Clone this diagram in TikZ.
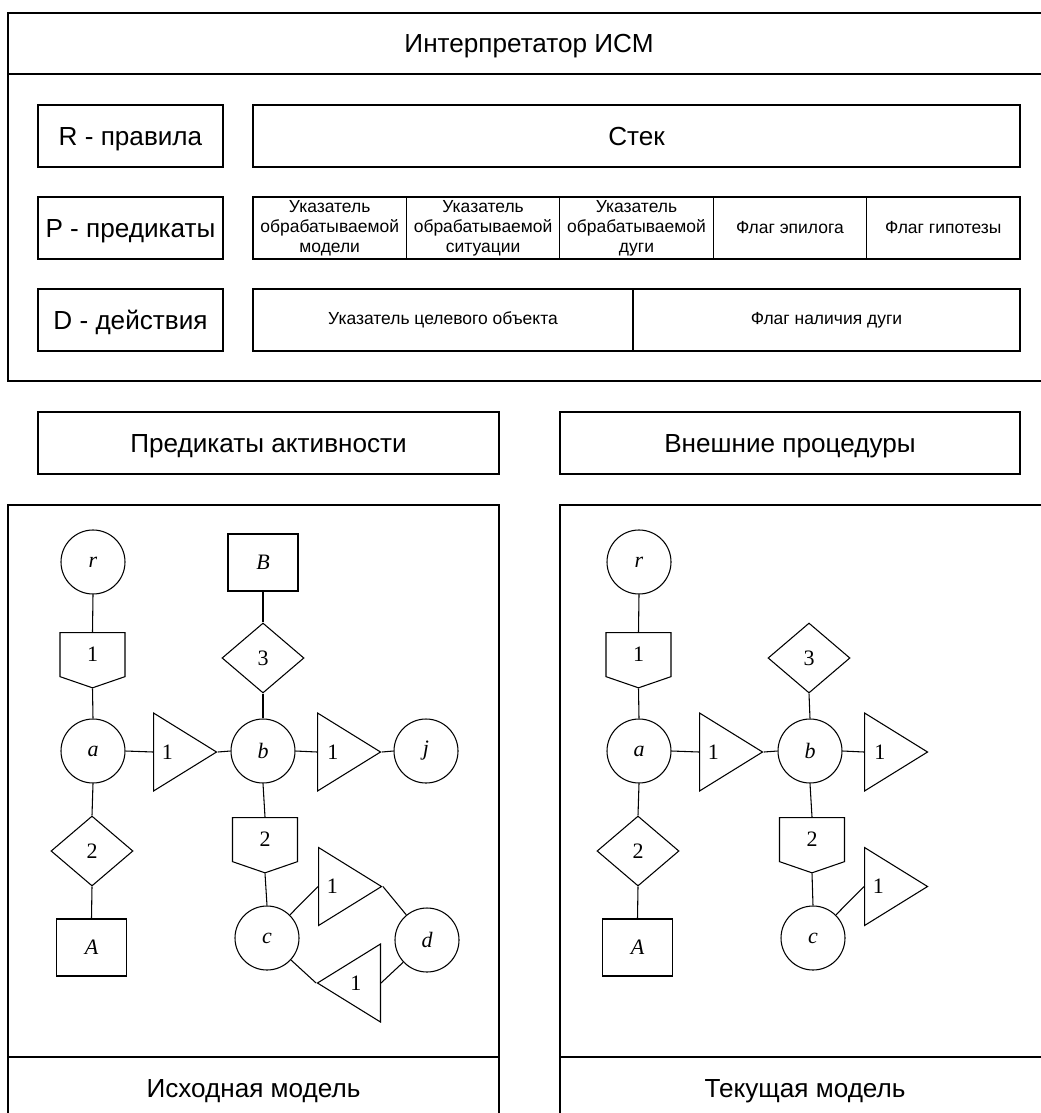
\documentclass[tikz,border=0pt]{standalone}
\usepackage{fontspec}
\setmainfont{Liberation Sans}
\newfontfamily\tms{Liberation Serif}
\usetikzlibrary{positioning}
\usetikzlibrary{shapes.geometric, shapes.symbols}

\tikzset{
  big/.style={font=\fontsize{19.6}{23}\selectfont, text height=14.1pt, text depth=0pt},
  box/.style={draw, line width=0.9pt, minimum height=46.5pt, inner sep=0pt, outer sep=0pt, big},
  cell/.style={draw, line width=0.9pt, minimum height=46.5pt, minimum width=#1, inner sep=0pt, outer sep=0pt, align=center, font=\fontsize{13.1}{15}\selectfont},
  cell/.default=115.05pt,
  gr/.style={draw, line width=0.8pt, inner sep=0pt, font=\tms\fontsize{16.5}{18}\selectfont},
  vert/.style={gr, circle, minimum size=48pt, font=\tms\fontsize{16.5}{18}\selectfont\itshape},
  obj/.style={gr, rectangle, minimum width=52.5pt, minimum height=42.75pt, font=\tms\fontsize{16.5}{18}\selectfont\itshape},
  cond/.style={gr, diamond, minimum width=61.5pt, minimum height=52.5pt},
  flag/.style={gr, signal, signal to=south, signal pointer angle=142, minimum width=48.75pt, minimum height=34.5pt, anchor=north},
  trig/.style={gr, isosceles triangle, isosceles triangle stretches, minimum width=58.5pt, minimum height=47.25pt, anchor=lower side},
  num/.style={inner sep=0pt, font=\tms\fontsize{16.5}{18}\selectfont},
  link/.style={line width=0.8pt}
}

\begin{document}
\begin{tikzpicture}[x=0.75pt, y=-0.75pt]
  \useasboundingbox (0,0) rectangle (1040,1113);
  %interpreter
  \draw[line width=1.2pt] (8,13) rectangle (1050,381);
  \draw[line width=1.2pt] (8,74) -- (1050,74);
  \node[big] (ism) at (529,43.5) {Интерпретатор ИСМ};
  \node[box, minimum width=138.75pt] (rules) at (130.5,136) {R - правила};
  \node[box, minimum width=575.25pt] (stack) at (636.5,136) {Стек};
  \node[box, minimum width=138.75pt] (preds) at (130.5,228) {P - предикаты};
  \node[cell, anchor=west] (p1) at (253,228) {Указатель\\обрабатываемой\\модели};
  \node[cell, right=0pt of p1] (p2) {Указатель\\обрабатываемой\\ситуации};
  \node[cell, right=0pt of p2] (p3) {Указатель\\обрабатываемой\\дуги};
  \node[cell, right=0pt of p3] (p4) {Флаг эпилога};
  \node[cell, right=0pt of p4] (p5) {Флаг гипотезы};
  \node[box, minimum width=138.75pt] (acts) at (130.5,320) {D - действия};
  \node[cell=285pt, anchor=west] (d1) at (253,320) {Указатель целевого объекта};
  \node[cell=290.25pt, right=0pt of d1] (d2) {Флаг наличия дуги};
  %middle
  \node[box, minimum width=345.75pt] (act) at (268.5,443) {Предикаты активности};
  \node[box, minimum width=345pt] (ext) at (790,443) {Внешние процедуры};
  %panels
  \draw[line width=0.9pt] (8,505) rectangle (499,1125);
  \draw[line width=0.9pt] (8,1057) -- (499,1057);
  \node[big] (src) at (253.5,1088) {Исходная модель};
  \draw[line width=0.9pt] (560,505) rectangle (1050,1125);
  \draw[line width=0.9pt] (560,1057) -- (1050,1057);
  \node[big] (cur) at (805,1088) {Текущая модель};

  % source model
  \node[vert] (r) at (93,562) {r};
  \node[flag] (fa) at (92.5,632) {1};
  \node[vert] (a) at (93,751) {a};
  \node[trig] (ta) at (153,752) {};
  \node[num, right=6.5pt of ta.lower side] (na) {1};
  \node[vert] (b) at (263,751) {b};
  \node[trig] (tb) at (317,752) {};
  \node[num, right=7.5pt of tb.lower side] (nb) {1};
  \node[vert] (j) at (426,751) {j};
  \node[obj] (B) at (263,562.5) {B};
  \node[cond] (cb) at (263,658) {3};
  \node[cond] (ca) at (92,851) {2};
  \node[obj] (A) at (91.5,947.5) {A};
  \node[flag] (fb) at (265,817) {2};
  \node[vert] (c) at (267,938) {c};
  \node[vert] (d) at (427,940) {d};
  \node[trig] (tc) at (318,886.5) {};
  \node[num, right=6.5pt of tc.lower side] (nc) {1};
  \node[trig, shape border rotate=180] (td) at (381,983) {};
  \node[num, left=14.5pt of td.lower side] (nd) {1};
  \draw[link] (r.south) -- (fa.north);
  \draw[link] (fa.south) -- (a.north);
  \draw[link] (a.east) -- (ta.lower side);
  \draw[link] (ta.apex) -- (b.west);
  \draw[link] (b.east) -- (tb.lower side);
  \draw[link] (tb.apex) -- (j.west);
  \draw[link] (B.south) -- (cb.north);
  \draw[link] (cb.south) -- (b.north);
  \draw[link] (a.south) -- (ca.north);
  \draw[link] (ca.south) -- (A.north);
  \draw[link] (b.south) -- (fb.north);
  \draw[link] (fb.south) -- (c.north);
  \draw[link] (c) -- (tc.lower side);
  \draw[link] (tc.apex) -- (d);
  \draw[link] (c) -- (td.apex);
  \draw[link] (d) -- (td.lower side);

  % current model
  \begin{scope}[xshift=409.5pt]
    \node[vert] (r2) at (93,562) {r};
    \node[flag] (fa2) at (92.5,632) {1};
    \node[vert] (a2) at (93,751) {a};
    \node[trig] (ta2) at (153,752) {};
    \node[num, right=6.5pt of ta2.lower side] (na2) {1};
    \node[vert] (b2) at (264,751) {b};
    \node[trig] (tb2) at (318,752) {};
    \node[num, right=7.5pt of tb2.lower side] (nb2) {1};
    \node[cond] (cb2) at (263,658) {3};
    \node[cond] (ca2) at (92,851) {2};
    \node[obj] (A2) at (91.5,947.5) {A};
    \node[flag] (fb2) at (266,817) {2};
    \node[vert] (c2) at (267,938) {c};
    \node[trig] (tc2) at (318,886.5) {};
    \node[num, right=6.5pt of tc2.lower side] (nc2) {1};
    \draw[link] (r2.south) -- (fa2.north);
    \draw[link] (fa2.south) -- (a2.north);
    \draw[link] (a2.east) -- (ta2.lower side);
    \draw[link] (ta2.apex) -- (b2.west);
    \draw[link] (b2.east) -- (tb2.lower side);
    \draw[link] (cb2.south) -- (b2.north);
    \draw[link] (a2.south) -- (ca2.north);
    \draw[link] (ca2.south) -- (A2.north);
    \draw[link] (b2.south) -- (fb2.north);
    \draw[link] (fb2.south) -- (c2.north);
    \draw[link] (c2) -- (tc2.lower side);
  \end{scope}
\end{tikzpicture}
\end{document}
